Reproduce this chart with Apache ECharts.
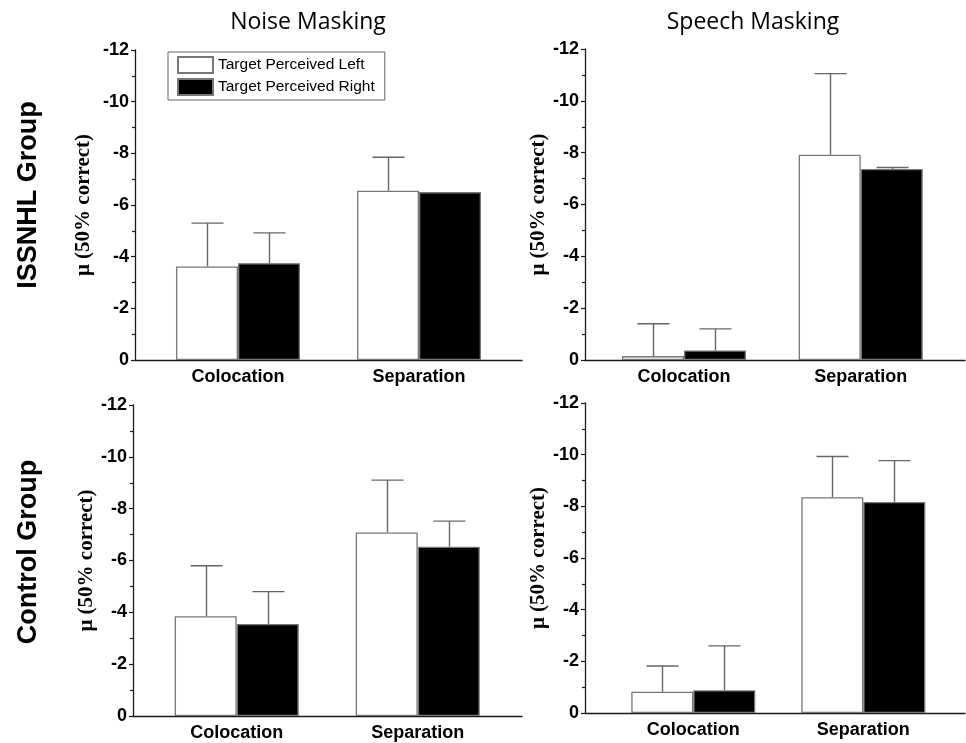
<!DOCTYPE html>
<html><head><meta charset="utf-8">
<script src="https://cdn.jsdelivr.net/npm/echarts@6/dist/echarts.min.js"></script>
<style>html,body{margin:0;padding:0;background:#fff}#c{width:966px;height:743px}</style>
</head><body><div id="c"></div>
<script>
const categories = ['Colocation', 'Separation'];
const seriesNames = ['Target Perceived Left', 'Target Perceived Right'];
const columnTitles = ['Noise Masking', 'Speech Masking'];
const rowTitles = ['ISSNHL Group', 'Control Group'];
const yAxisName = 'μ (50% correct)';

// values (mean) and top of error bar, per panel, per category
const issnhlNoiseLeft = [-3.62, -6.55];
const issnhlNoiseLeftErr = [-5.3, -7.85];
const issnhlNoiseRight = [-3.75, -6.5];
const issnhlNoiseRightErr = [-4.92, null];

const issnhlSpeechLeft = [-0.15, -7.92];
const issnhlSpeechLeftErr = [-1.4, -11.05];
const issnhlSpeechRight = [-0.37, -7.37];
const issnhlSpeechRightErr = [-1.2, -7.43];

const controlNoiseLeft = [-3.85, -7.08];
const controlNoiseLeftErr = [-5.8, -9.1];
const controlNoiseRight = [-3.55, -6.53];
const controlNoiseRightErr = [-4.8, -7.52];

const controlSpeechLeft = [-0.82, -8.35];
const controlSpeechLeftErr = [-1.82, -9.93];
const controlSpeechRight = [-0.88, -8.17];
const controlSpeechRightErr = [-2.6, -9.77];

const panels = [
  {grid: {left: 135, top: 50, width: 387, height: 310}, xMin: 0.431, xMax: 2.569, nameGap: 41,
   left: issnhlNoiseLeft, leftErr: issnhlNoiseLeftErr, right: issnhlNoiseRight, rightErr: issnhlNoiseRightErr},
  {grid: {left: 585, top: 49, width: 380, height: 311}, xMin: 0.44, xMax: 2.59, nameGap: 33,
   left: issnhlSpeechLeft, leftErr: issnhlSpeechLeftErr, right: issnhlSpeechRight, rightErr: issnhlSpeechRightErr},
  {grid: {left: 133, top: 405, width: 389, height: 311}, xMin: 0.427, xMax: 2.576, nameGap: 34,
   left: controlNoiseLeft, leftErr: controlNoiseLeftErr, right: controlNoiseRight, rightErr: controlNoiseRightErr},
  {grid: {left: 585, top: 403, width: 380, height: 310}, xMin: 0.363, xMax: 2.598, nameGap: 32,
   left: controlSpeechLeft, leftErr: controlSpeechLeftErr, right: controlSpeechRight, rightErr: controlSpeechRightErr}
];

const BAR_W = 62;
const LINE = '#666';
const AXIS = '#1a1a1a';

function errRender(offset) {
  return function (params, api) {
    const x = api.value(0), v = api.value(1), e = api.value(2);
    if (isNaN(e)) return null;
    const p0 = api.coord([x, v]);
    const p1 = api.coord([x, e]);
    const cx = Math.round(p0[0] + offset) + 0.5;
    const st = {stroke: LINE, lineWidth: 1.4};
    return {type: 'group', children: [
      {type: 'line', shape: {x1: cx, y1: p0[1], x2: cx, y2: p1[1]}, style: st},
      {type: 'line', shape: {x1: cx - 16, y1: p1[1], x2: cx + 16, y2: p1[1]}, style: st}
    ]};
  };
}

const grids = [], xAxes = [], yAxes = [], series = [];
panels.forEach((p, i) => {
  grids.push(Object.assign({containLabel: false}, p.grid));
  xAxes.push({
    type: 'value', gridIndex: i, min: p.xMin, max: p.xMax,
    axisLine: {show: true, onZero: false, lineStyle: {color: AXIS, width: 1.3}},
    axisTick: {show: false}, splitLine: {show: false},
    axisLabel: {
      customValues: [1, 2], margin: 8,
      formatter: v => categories[Math.round(v) - 1] || '',
      fontFamily: 'Liberation Sans', fontWeight: 'bold', fontSize: 18, color: '#000'
    }
  });
  yAxes.push({
    type: 'value', gridIndex: i, inverse: true, min: -12, max: 0, interval: 2,
    name: yAxisName, nameLocation: 'middle', nameGap: p.nameGap,
    nameTextStyle: {fontFamily: 'Liberation Serif', fontWeight: 'bold', fontSize: 21, color: '#000'},
    axisLine: {show: true, lineStyle: {color: AXIS, width: 1.3}},
    axisTick: {show: true, length: 4, lineStyle: {color: AXIS, width: 1.2}},
    minorTick: {show: true, splitNumber: 2, length: 3, lineStyle: {color: AXIS, width: 1.2}},
    splitLine: {show: false},
    axisLabel: {margin: 6, fontFamily: 'Liberation Sans', fontWeight: 'bold', fontSize: 18, color: '#000'}
  });
  const leftData = p.left.map((v, k) => [k + 1, v]);
  const rightData = p.right.map((v, k) => [k + 1, v]);
  series.push({
    name: seriesNames[0], type: 'bar', xAxisIndex: i, yAxisIndex: i,
    barWidth: BAR_W, barGap: '0%', data: leftData,
    itemStyle: {color: '#fff', borderColor: '#777', borderWidth: 1.3}
  });
  series.push({
    name: seriesNames[1], type: 'bar', xAxisIndex: i, yAxisIndex: i,
    barWidth: BAR_W, barGap: '0%', data: rightData,
    itemStyle: {color: '#000', borderColor: '#777', borderWidth: 1.3}
  });
  series.push({
    type: 'custom', xAxisIndex: i, yAxisIndex: i, z: 5,
    renderItem: errRender(-BAR_W / 2), encode: {x: 0, y: 2},
    data: p.left.map((v, k) => [k + 1, v, p.leftErr[k] == null ? NaN : p.leftErr[k]])
  });
  series.push({
    type: 'custom', xAxisIndex: i, yAxisIndex: i, z: 5,
    renderItem: errRender(BAR_W / 2), encode: {x: 0, y: 2},
    data: p.right.map((v, k) => [k + 1, v, p.rightErr[k] == null ? NaN : p.rightErr[k]])
  });
});

const chart = echarts.init(document.getElementById('c'), null, {renderer: 'canvas'});
chart.setOption({
  animation: false,
  backgroundColor: '#fff',
  grid: grids, xAxis: xAxes, yAxis: yAxes, series: series,
  legend: {
    data: seriesNames, orient: 'vertical', left: 168, top: 52,
    icon: 'rect', itemWidth: 35, itemHeight: 16, itemGap: 4,
    padding: [4, 10, 4, 9],
    borderColor: '#666', borderWidth: 1, selectedMode: false,
    textStyle: {fontFamily: 'Liberation Sans', fontSize: 15.5, color: '#000', padding: [0, 0, 0, 0]}
  },
  graphic: [
    {type: 'text', x: 308, y: 22, style: {text: columnTitles[0], font: '23px "Open Sans"', fill: '#000', textAlign: 'center', textVerticalAlign: 'middle'}},
    {type: 'text', x: 753, y: 22, style: {text: columnTitles[1], font: '23px "Open Sans"', fill: '#000', textAlign: 'center', textVerticalAlign: 'middle'}},
    {type: 'text', x: 29, y: 195, rotation: Math.PI / 2, style: {text: rowTitles[0], font: 'bold 27px "Liberation Sans"', fill: '#000', textAlign: 'center', textVerticalAlign: 'middle'}},
    {type: 'text', x: 29, y: 552, rotation: Math.PI / 2, style: {text: rowTitles[1], font: 'bold 27px "Liberation Sans"', fill: '#000', textAlign: 'center', textVerticalAlign: 'middle'}}
  ]
});
</script></body></html>
